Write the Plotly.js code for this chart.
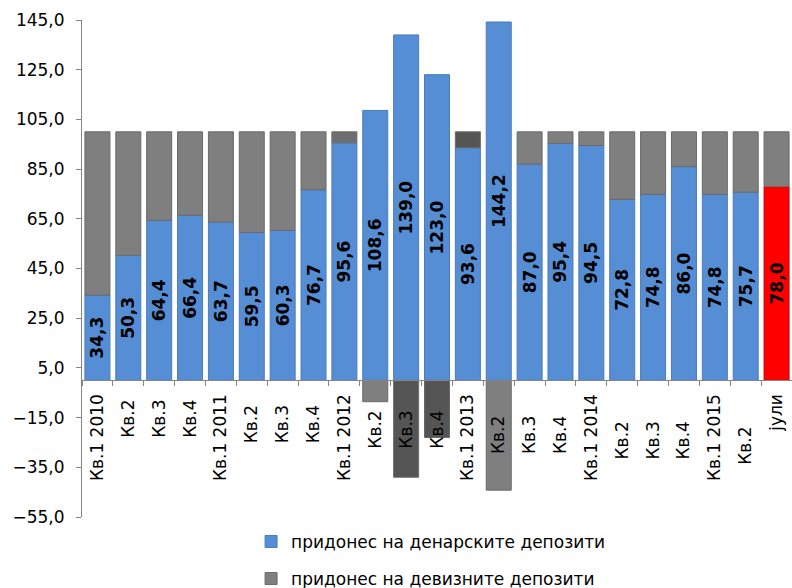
<!DOCTYPE html>
<html>
<head>
<meta charset="utf-8">
<script src="https://cdn.plot.ly/plotly-3.0.1.min.js"></script>
<style>
  html, body { margin: 0; padding: 0; background: #ffffff; overflow: hidden; }
  #chart { width: 792px; height: 588px; }
</style>
</head>
<body>
<div id="chart"></div>
<script>
// Quarterly periods (trailing spaces keep repeated quarter names as separate categories)
const periods = [
  'Кв.1 2010', 'Кв.2 ', 'Кв.3 ', 'Кв.4 ',
  'Кв.1 2011', 'Кв.2  ', 'Кв.3  ', 'Кв.4  ',
  'Кв.1 2012', 'Кв.2   ', 'Кв.3   ', 'Кв.4   ',
  'Кв.1 2013', 'Кв.2    ', 'Кв.3    ', 'Кв.4    ',
  'Кв.1 2014', 'Кв.2     ', 'Кв.3     ', 'Кв.4     ',
  'Кв.1 2015', 'Кв.2      ', 'јули'
];

// Contribution of denar deposits (%)
const denarContribution = [
  34.3, 50.3, 64.4, 66.4,
  63.7, 59.5, 60.3, 76.7,
  95.6, 108.6, 139.0, 123.0,
  93.6, 144.2, 87.0, 95.4,
  94.5, 72.8, 74.8, 86.0,
  74.8, 75.7, 78.0
];

// Contribution of foreign-currency deposits (%)
const fxContribution = [
  65.7, 49.7, 35.6, 33.6,
  36.3, 40.5, 39.7, 23.3,
  4.4, -8.6, -39.0, -23.0,
  6.4, -44.2, 13.0, 4.6,
  5.5, 27.2, 25.2, 14.0,
  25.2, 24.3, 22.0
];

const seriesNames = ['придонес на денарските депозити', 'придонес на девизните депозити'];
const yTicks = [-55, -35, -15, 5, 25, 45, 65, 85, 105, 125, 145];

const BLUE = '#558ed5';
const GRAY = '#7f7f7f';
const DARK = '#555555';

const blueColors = periods.map((p, i) => i === periods.length - 1 ? '#ff0000' : BLUE);
const blueLines = periods.map((p, i) => i === periods.length - 1 ? '#d00000' : '#4a7cbc');
const grayColors = periods.map((p, i) => (i === 10 || i === 11 || i === 12) ? DARK : (i === 8 ? '#6e6e6e' : GRAY));

const traces = [
  {
    type: 'bar',
    name: seriesNames[0],
    legendgroup: 'a',
    x: periods,
    y: denarContribution,
    marker: { color: blueColors, line: { color: blueLines, width: 1 } },
    texttemplate: '%{y:.1f}',
    textposition: 'inside',
    insidetextanchor: 'middle',
    textangle: -90,
    constraintext: 'none',
    insidetextfont: { family: 'DejaVu Sans', size: 17, color: '#000000', weight: 'bold' },
    hoverinfo: 'x+y'
  },
  {
    type: 'bar',
    name: seriesNames[1],
    legendgroup: 'b',
    x: periods,
    y: fxContribution,
    marker: { color: grayColors, line: { color: '#6a6a6a', width: 1 } },
    hoverinfo: 'x+y'
  }
];

const layout = {
  width: 792,
  height: 588,
  margin: { l: 82, r: 0, t: 20, b: 71, autoexpand: false },
  paper_bgcolor: '#ffffff',
  plot_bgcolor: '#ffffff',
  separators: ', ',
  barmode: 'relative',
  bargap: 0.19,
  font: { family: 'DejaVu Sans', size: 17, color: '#000000' },
  xaxis: {
    type: 'category',
    anchor: 'free',
    position: 55 / 200,
    showline: true,
    linecolor: '#868686',
    linewidth: 1,
    ticks: 'outside',
    tickson: 'boundaries',
    ticklen: 5,
    tickcolor: '#868686',
    tickangle: -90,
    ticklabelstandoff: 6,
    tickfont: { family: 'DejaVu Sans', size: 17, color: '#000000' },
    showgrid: false,
    zeroline: false,
    fixedrange: true
  },
  yaxis: {
    range: [-55, 145],
    tickvals: yTicks,
    tickformat: '.1f',
    showline: true,
    linecolor: '#868686',
    linewidth: 1,
    ticks: 'outside',
    ticklen: 5,
    tickcolor: '#868686',
    ticklabelstandoff: 8,
    tickfont: { family: 'DejaVu Sans', size: 17, color: '#000000' },
    showgrid: false,
    zeroline: false,
    fixedrange: true
  },
  showlegend: true,
  legend: {
    orientation: 'v',
    xref: 'container',
    yref: 'container',
    x: 0.317,
    xanchor: 'left',
    y: 0.109,
    yanchor: 'top',
    traceorder: 'grouped',
    tracegroupgap: 12,
    font: { family: 'DejaVu Sans', size: 17, color: '#000000' },
    bgcolor: 'rgba(0,0,0,0)'
  }
};

Plotly.newPlot('chart', traces, layout, { displayModeBar: false, staticPlot: true });
</script>
</body>
</html>
